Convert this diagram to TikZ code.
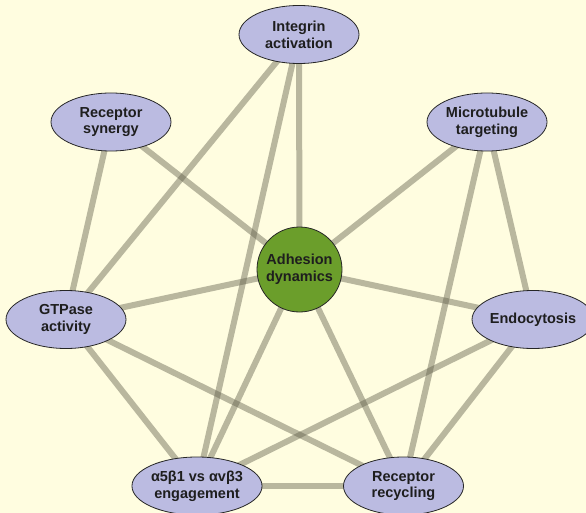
\documentclass[tikz,border=0pt]{standalone}
\usepackage{fontspec}
\setmainfont{Liberation Sans}
\usetikzlibrary{shapes.geometric,backgrounds}
\definecolor{bgc}{RGB}{255,253,224}
\definecolor{lav}{RGB}{187,187,225}
\definecolor{grn}{RGB}{107,158,43}
\definecolor{edgec}{RGB}{100,98,78}
\definecolor{txt}{RGB}{30,30,30}
\tikzset{
  topic/.style={ellipse, draw=black!85, line width=0.8pt, fill=lav, minimum width=120pt, minimum height=58pt, inner sep=0pt, align=center, text=txt, font=\fontsize{14.5}{16.7}\selectfont\bfseries},
  hub/.style={circle, draw=black!85, line width=0.8pt, fill=grn, minimum size=85pt, inner sep=0pt, align=center, text=txt, font=\fontsize{14.5}{16.7}\selectfont\bfseries},
  link/.style={draw=edgec, line width=6pt, opacity=0.45}
}
\begin{document}
\begin{tikzpicture}[x=1pt,y=-1pt]
\useasboundingbox (0,0) rectangle (586,513);
\node[topic] (int) at (299,34.5) {Integrin\\activation};
\node[topic] (syn) at (111,122) {Receptor\\synergy};
\node[topic] (mic) at (487,122) {Microtubule\\targeting};
\node[hub] (adh) at (299.5,269.5) {Adhesion\\dynamics};
\node[topic] (gtp) at (66,319.5) {GTPase\\activity};
\node[topic] (endo) at (533,319.5) {Endocytosis};
\node[topic] (eng) at (197,486) {α5β1 vs αvβ3\\engagement};
\node[topic] (rec) at (403.5,486) {Receptor\\recycling};
\begin{scope}[on background layer]
\fill[bgc] (0,0) rectangle (586,513);
\draw[link] (int.center) -- (adh.center);
\draw[link] (int.center) -- (gtp.center);
\draw[link] (int.center) -- (eng.center);
\draw[link] (syn.center) -- (adh.center);
\draw[link] (syn.center) -- (gtp.center);
\draw[link] (mic.center) -- (adh.center);
\draw[link] (mic.center) -- (rec.center);
\draw[link] (mic.center) -- (endo.center);
\draw[link] (adh.center) -- (gtp.center);
\draw[link] (adh.center) -- (endo.center);
\draw[link] (adh.center) -- (eng.center);
\draw[link] (adh.center) -- (rec.center);
\draw[link] (gtp.center) -- (eng.center);
\draw[link] (gtp.center) -- (rec.center);
\draw[link] (endo.center) -- (eng.center);
\draw[link] (endo.center) -- (rec.center);
\draw[link] (eng.center) -- (rec.center);
\end{scope}
\end{tikzpicture}
\end{document}
